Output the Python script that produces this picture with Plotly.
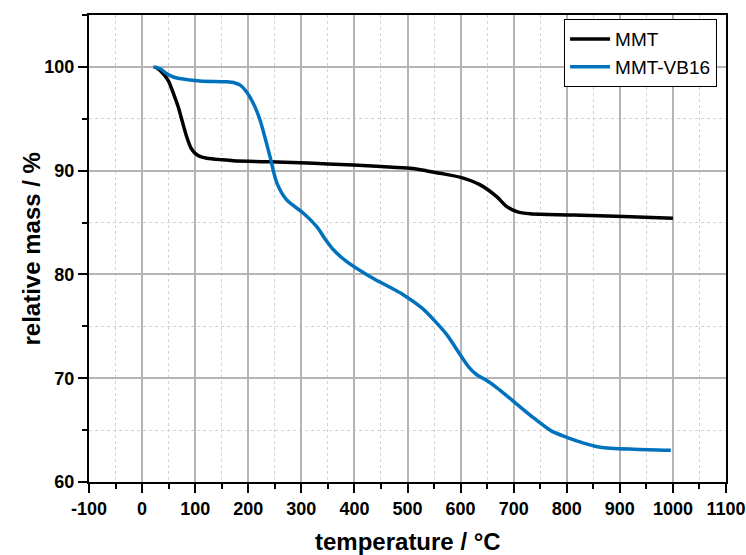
import plotly.graph_objects as go

# MMT series
mmt_t = [25, 35, 49, 60, 68, 76, 84, 92, 100, 110, 122, 150, 172, 240, 298, 350, 398, 450,
         505, 535, 561, 600, 637, 668, 687, 706, 731, 812, 907, 1000]
mmt_m = [100, 99.6, 98.7, 97.3, 96.15, 94.7, 93.27, 92.2, 91.67, 91.35, 91.2, 91.05, 90.96,
         90.85, 90.77, 90.65, 90.55, 90.4, 90.23, 90.0, 89.75, 89.35, 88.63, 87.5, 86.54,
         86.06, 85.84, 85.74, 85.58, 85.42]

# MMT-VB16 series
vb_t = [21, 35, 46, 60, 71, 109, 159, 175, 185, 195, 203, 213, 222, 232, 241, 254, 272, 304,
        329, 345, 360, 385, 429, 492, 527, 550, 574, 599, 615, 630, 650, 668, 699,
        737, 770, 800, 835, 863, 926, 996]
vb_m = [100, 99.8, 99.36, 99.0, 98.88, 98.65, 98.56, 98.45, 98.24, 97.7, 97.1, 96.1, 94.9,
        93.1, 91.35, 88.8, 87.2, 85.9, 84.6, 83.4, 82.4, 81.25, 79.8, 78.05, 76.77, 75.6,
        74.2, 72.28, 71.1, 70.36, 69.75, 69.1, 67.8, 66.2, 64.95, 64.3, 63.7,
        63.35, 63.15, 63.05]

x_ticks = list(range(-100, 1101, 100))
y_ticks = [60, 70, 80, 90, 100]

font = "Liberation Sans, Arial, sans-serif"

fig = go.Figure()
fig.add_trace(go.Scatter(x=mmt_t, y=mmt_m, mode="lines", name="MMT",
                         line=dict(color="black", width=3.5, shape="spline", smoothing=0.8)))
fig.add_trace(go.Scatter(x=vb_t, y=vb_m, mode="lines", name="MMT-VB16",
                         line=dict(color="#0072BD", width=3.5, shape="spline", smoothing=0.8)))

axis_common = dict(
    showline=True, linecolor="black", linewidth=2, mirror=True,
    ticks="outside", ticklen=9, tickwidth=2, tickcolor="black",
    showgrid=True, gridcolor="#b4b4b4", gridwidth=1.5,
    zeroline=False, automargin=False,
    tickfont=dict(family=font, size=18, color="black", weight="bold"),
)

minor_common = dict(ticks="outside", ticklen=5, tickwidth=2, tickcolor="black",
                    showgrid=True, gridcolor="#d2d2d2", gridwidth=1, griddash="3px,3px")

fig.update_xaxes(range=[-100, 1100], tickvals=x_ticks, ticktext=[str(v) for v in x_ticks],
                 minor=dict(dtick=50, **minor_common), **axis_common)
fig.update_yaxes(range=[60, 105], tickvals=y_ticks, ticktext=[str(v) for v in y_ticks],
                 minor=dict(dtick=5, **minor_common), **axis_common)

title_font = dict(family=font, size=24, color="black", weight="bold")
fig.add_annotation(text="temperature / °C", xref="paper", yref="paper", x=0.5, y=-0.128,
                   xanchor="center", yanchor="middle", showarrow=False, font=title_font)
fig.add_annotation(text="relative mass / %", xref="paper", yref="paper", x=-0.0895, y=0.5,
                   xanchor="center", yanchor="middle", showarrow=False, textangle=-90,
                   font=title_font)

fig.update_layout(
    width=746, height=555,
    margin=dict(l=89, r=20, t=15, b=73),
    plot_bgcolor="white", paper_bgcolor="white",
    showlegend=True,
    legend=dict(x=0.986, y=0.991, xanchor="right", yanchor="top",
                bgcolor="white", bordercolor="black", borderwidth=1,
                font=dict(family=font, size=19, color="black"),
                tracegroupgap=0, itemwidth=40),
)

fig.write_html("out.html")
